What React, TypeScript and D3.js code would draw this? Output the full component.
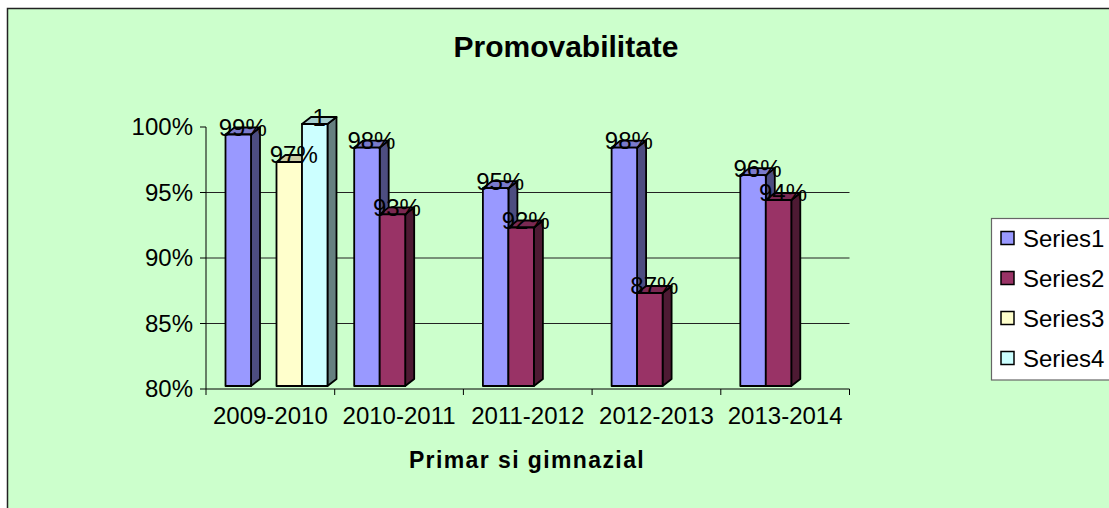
import React from 'react';
import * as d3 from 'd3';

// chart data
const categories = ['2009-2010', '2010-2011', '2011-2012', '2012-2013', '2013-2014'];
const seriesNames = ['Series1', 'Series2', 'Series3', 'Series4'];
const series1 = [0.992, 0.982, 0.951, 0.982, 0.961];
const series2 = [null, 0.931, 0.921, 0.871, 0.942];
const series3 = [0.971, null, null, null, null];
const series4 = [1, null, null, null, null];
// Series4 was stored as a plain number (General format), the rest as percents
const labelFormats = ['pct', 'pct', 'pct', 'general'];
const yTicks = [0.8, 0.85, 0.9, 0.95, 1.0];

const seriesValues: (number | null)[][] = [series1, series2, series3, series4];

const FRONT = ['#9999FF', '#993366', '#FFFFCC', '#CCFFFF'];
const FONT = '"Liberation Sans", Arial, sans-serif';
const BG = '#CCFFCC';

const W = 1109;
const H = 508;

// plot area
const plotLeft = 206;
const plotRight = 849.5;
const plotTop = 127;
const plotBottom = 389;

// 3d look
const DX = 9;
const DY = 7;
const FLOOR_LIFT = 3;

function shade(c: string, k: number) {
  const rgb = d3.rgb(c);
  return d3.rgb(rgb.r * k, rgb.g * k, rgb.b * k).formatHex();
}

export default function App() {
  const x = d3.scaleBand<string>().domain(categories).range([plotLeft, plotRight]).paddingInner(0).paddingOuter(0);
  const xs = d3.scaleBand<string>().domain(seriesNames).range([19.5, 19.5 + 102]);
  const y = d3.scaleLinear().domain([0.8, 1.0]).range([plotBottom, plotTop]);
  const pct = d3.format('.0%');

  const bars: React.ReactNode[] = [];
  const labels: React.ReactNode[] = [];

  categories.forEach((cat, ci) => {
    seriesValues.forEach((vals, si) => {
      const v = vals[ci];
      if (v == null) return;
      const x0 = (x(cat) as number) + (xs(seriesNames[si]) as number);
      const bw = xs.bandwidth();
      const yt = y(v) - FLOOR_LIFT;
      const yb = y(0.8) - FLOOR_LIFT;
      const col = FRONT[si];
      bars.push(
        <g key={`b-${ci}-${si}`} stroke="#000" strokeWidth={1.8} strokeLinejoin="round">
          <polygon
            points={`${x0 + bw},${yt} ${x0 + bw + DX},${yt - DY} ${x0 + bw + DX},${yb - DY} ${x0 + bw},${yb}`}
            fill={shade(col, 0.5)}
          />
          <polygon
            points={`${x0},${yt} ${x0 + DX},${yt - DY} ${x0 + bw + DX},${yt - DY} ${x0 + bw},${yt}`}
            fill={shade(col, 0.8)}
          />
          <rect x={x0} y={yt} width={bw} height={yb - yt} fill={col} />
        </g>
      );
      const txt = labelFormats[si] === 'pct' ? pct(v) : String(v);
      labels.push(
        <text
          key={`l-${ci}-${si}`}
          x={x0 + bw / 2 + DX / 2}
          y={yt + 1.5}
          textAnchor="middle"
          fontSize={24}
          fontFamily={FONT}
          fill="#000"
        >
          {txt}
        </text>
      );
    });
  });

  const legendX = 991.5;
  const legendY = 218.5;

  return (
    <svg
      width={W}
      height={H}
      style={{ position: 'absolute', left: 0, top: 0, display: 'block' }}
      fontFamily={FONT}
    >
      {/* chart area */}
      <rect x={7.5} y={8.5} width={W + 20} height={H + 20} fill={BG} stroke="#222" strokeWidth={1.5} />

      {/* title */}
      <text x={566} y={57} textAnchor="middle" fontSize={30} fontWeight="bold" fill="#000">
        Promovabilitate
      </text>

      {/* gridlines */}
      {yTicks.filter(t => t > 0.8 && t < 1).map(t => (
        <line key={`g-${t}`} x1={plotLeft} x2={plotRight} y1={y(t)} y2={y(t)} stroke="#222" strokeWidth={1} />
      ))}

      {/* y axis */}
      <line x1={plotLeft} x2={plotLeft} y1={plotTop} y2={plotBottom} stroke="#000" strokeWidth={1} />
      {yTicks.map(t => (
        <g key={`yt-${t}`}>
          <line x1={plotLeft - 6} x2={plotLeft} y1={y(t)} y2={y(t)} stroke="#000" strokeWidth={1} />
          <text x={193} y={y(t) + 8} textAnchor="end" fontSize={24} fill="#000">
            {pct(t)}
          </text>
        </g>
      ))}

      {/* x axis */}
      <line x1={plotLeft} x2={plotRight} y1={plotBottom} y2={plotBottom} stroke="#000" strokeWidth={1} />
      {[...categories.map(c => x(c) as number), plotRight].map((xv, i) => (
        <line key={`xt-${i}`} x1={xv} x2={xv} y1={plotBottom} y2={plotBottom + 6} stroke="#000" strokeWidth={1} />
      ))}
      {categories.map(c => (
        <text key={`xl-${c}`} x={(x(c) as number) + x.bandwidth() / 2} y={424} textAnchor="middle" fontSize={24} fill="#000">
          {c}
        </text>
      ))}

      {/* bars */}
      {bars}
      {labels}

      {/* x axis title */}
      <text x={527} y={468} textAnchor="middle" fontSize={23} fontWeight="bold" letterSpacing={1.4} fill="#000">
        Primar si gimnazial
      </text>

      {/* legend */}
      <rect x={legendX} y={legendY} width={160} height={161.5} fill="#fff" stroke="#666" strokeWidth={1.2} />
      {seriesNames.map((s, i) => {
        const cy = 238 + i * 40;
        return (
          <g key={`lg-${s}`}>
            <rect x={1001} y={cy - 6.5} width={13} height={13} fill={FRONT[i]} stroke="#000" strokeWidth={1.5} />
            <text x={1023} y={cy + 8.5} fontSize={24} fill="#000">
              {s}
            </text>
          </g>
        );
      })}
    </svg>
  );
}
